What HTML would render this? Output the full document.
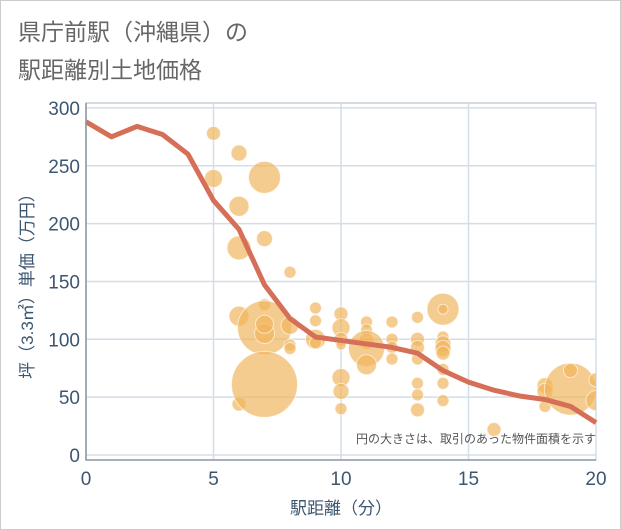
<!DOCTYPE html>
<html><head><meta charset="utf-8"><style>
body{margin:0;background:#fff}
svg{display:block;font-family:"Liberation Sans","Noto Sans CJK JP",sans-serif}
</style></head><body>
<svg width="621" height="530">
<rect x="0.5" y="0.5" width="620" height="529" fill="#fff" stroke="#ccc"/>
<text x="18" y="40" font-size="23" fill="#666">県庁前駅（沖縄県）の</text>
<text x="18" y="78" font-size="23" fill="#666">駅距離別土地価格</text>
<g id="grid"></g>
<g id="bubbles"></g>
<g id="line"></g>
<g id="axes"></g>
<text x="596" y="443" font-size="12" fill="#555" text-anchor="end">円の大きさは、取引のあった物件面積を示す</text>
<text x="341" y="514" font-size="17" fill="#3d5670" text-anchor="middle">駅距離（分）</text>
<text transform="translate(33,282) rotate(-90)" font-size="17" fill="#3d5670" text-anchor="middle">坪（3.3㎡）単価（万円）</text>
</svg>
<script>
const xTicks=[0,5,10,15,20];
const yTicks=[0,50,100,150,200,250,300];
const lineX=[0,1,2,3,4,5,6,7,8,9,10,11,12,13,14,15,16,17,18,19,20];
const lineY=[288,275,284,277,260,220,195,147,118,102,99,96,93,88,73,63,56,51,48,42,28];
const bubX=[5,5,6,6,6,6,6,7,7,7,7,7,7,7,8,8,8,8,9,9,9,9,10,10,10,10,10,10,10,11,11,11,11,11,12,12,12,12,13,13,13,13,13,13,13,14,14,14,14,14,14,14,14,14,16,18,18,18,19,19,20,20];
const bubY=[278,239,261,215,179,120,44,240,187,130,110,105,113,61,158,112,95,92,127,116,100,97,122,110,100,95,67,55,40,115,108,98,92,78,115,100,93,83,119,100,93,83,62,52,39,126,126,102,96,92,88,74,62,47,22,60,55,42,57,73,65,47];
const bubR=[7,9,8,10,12,10,7,16,8,6,27,10,9,33,6,9,6,6,6,6,10,6,7,9,7,5,9,8,6,6,6,8,18,10,6,6,6,6,6,7,7,6,6,6,7,16,5,6,8,8,7,6,6,6,7,8,8,6,26,7,7,10];
const NS='http://www.w3.org/2000/svg';
const L=86,R=596,T=103,B=460;
const xs=v=>L+v*(R-L)/20;
const ys=v=>455-v*1.157;
function mk(t,a,p){const e=document.createElementNS(NS,t);for(const k in a)e.setAttribute(k,a[k]);p.appendChild(e);return e;}
const grid=document.getElementById('grid'),axes=document.getElementById('axes');
const pb=mk('rect',{x:L,y:T,width:R-L,height:B-T,fill:'none',stroke:'#aab4be'},grid);


yTicks.forEach(v=>{
 const g=mk('line',{x1:L,x2:R,y1:ys(v),y2:ys(v),stroke:'#d3dee8','stroke-width':1.5},grid);
 
 
 const t=mk('text',{x:80,y:ys(v)+7,'font-size':19,fill:'#3d5670','text-anchor':'end'},axes);
 t.textContent=v;
 
 
});
xTicks.forEach(v=>{
 const g=mk('line',{x1:xs(v),x2:xs(v),y1:T,y2:B,stroke:'#d3dee8','stroke-width':1.5},grid);
 
 
 const t=mk('text',{x:xs(v),y:485,'font-size':19,fill:'#3d5670','text-anchor':'middle'},axes);
 t.textContent=v;
 
 
});
const ax=mk('path',{d:`M${L},${T}V${B}H${R}`,fill:'none',stroke:'#8a96a3','stroke-width':1.5},axes);


const bg=document.getElementById('bubbles');
const cp=mk('clipPath',{id:'clip'},bg);mk('rect',{x:L,y:T,width:R-L,height:B-T},cp);
bubX.forEach((x,i)=>{
 const c=mk('circle',{cx:xs(x),cy:ys(bubY[i]),r:bubR[i],fill:'#f0b45a','fill-opacity':0.68,stroke:'#fff','stroke-opacity':0.6,'clip-path':'url(#clip)'},bg);
 
 
});
const lp=mk('polyline',{points:lineX.map((x,i)=>xs(x)+','+ys(lineY[i])).join(' '),fill:'none',stroke:'#d66f58','stroke-width':5,'stroke-linejoin':'round'},document.getElementById('line'));


</script>
</body></html>
